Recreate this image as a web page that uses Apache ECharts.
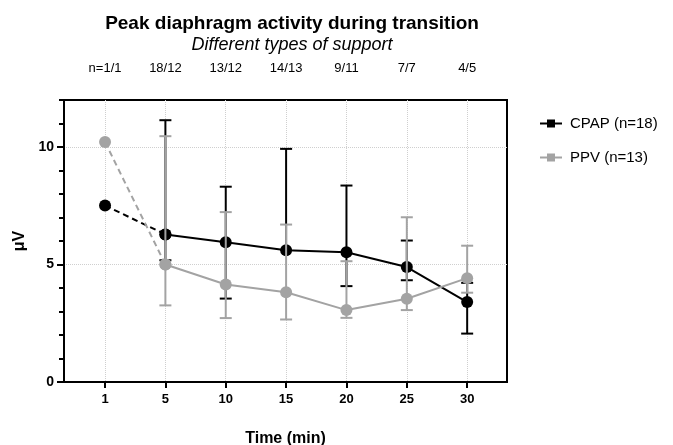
<!DOCTYPE html>
<html>
<head>
<meta charset="utf-8">
<script src="https://cdn.jsdelivr.net/npm/echarts@6/dist/echarts.min.js"></script>
<style>html,body{margin:0;padding:0;background:#fff}#c{width:673px;height:445px}</style>
</head>
<body>
<div id="c"></div>
<script>
const categories = ['1', '5', '10', '15', '20', '25', '30'];
const nLabels = ['n=1/1', '18/12', '13/12', '14/13', '9/11', '7/7', '4/5'];
const cpapMean = [7.51, 6.28, 5.95, 5.61, 5.52, 4.89, 3.40];
const cpapLow  = [null, 5.18, 3.55, null, 4.08, 4.33, 2.06];
const cpapHigh = [null, 11.14, 8.31, 9.92, 8.36, 6.02, 4.22];
const ppvMean = [10.21, 5.00, 4.15, 3.82, 3.06, 3.54, 4.42];
const ppvLow  = [null, 3.26, 2.72, 2.66, 2.73, 3.06, 3.80];
const ppvHigh = [null, 10.46, 7.23, 6.70, 5.14, 7.01, 5.80];
const yMajor = [0, 5, 10];
const yMinor = [1, 2, 3, 4, 6, 7, 8, 9, 11, 12];

const FONT = '"Liberation Sans", Arial, sans-serif';
const BLACK = '#000000';
const GRAY = '#a3a3a3';
const idx = categories.map((_, i) => i);

function errData(mean, lo, hi) {
  const out = [];
  mean.forEach((m, i) => {
    if (lo[i] == null && hi[i] == null) return;
    out.push([i, lo[i] == null ? m : lo[i], hi[i] == null ? m : hi[i], m]);
  });
  return out;
}
function errRender(color) {
  return function (params, api) {
    const x = api.value(0), lo = api.value(1), hi = api.value(2), m = api.value(3);
    const pm = api.coord([x, m]);
    const hw = 6;
    const st = { stroke: color, lineWidth: 2 };
    const ch = [];
    if (hi > m) {
      const ph = api.coord([x, hi]);
      ch.push({ type: 'line', shape: { x1: pm[0], y1: pm[1], x2: ph[0], y2: ph[1] }, style: st });
      ch.push({ type: 'line', shape: { x1: ph[0] - hw, y1: ph[1], x2: ph[0] + hw, y2: ph[1] }, style: st });
    }
    if (lo < m) {
      const pl = api.coord([x, lo]);
      ch.push({ type: 'line', shape: { x1: pm[0], y1: pm[1], x2: pl[0], y2: pl[1] }, style: st });
      ch.push({ type: 'line', shape: { x1: pl[0] - hw, y1: pl[1], x2: pl[0] + hw, y2: pl[1] }, style: st });
    }
    return { type: 'group', children: ch };
  };
}
function pts(arr, from, to) {
  const out = [];
  for (let i = from; i <= to; i++) out.push([i, arr[i]]);
  return out;
}

const chart = echarts.init(document.getElementById('c'), null, { renderer: 'canvas' });
const legendIcon = 'path://M0,3H7V0H15V3H22V5H15V8H7V5H0Z';
chart.setOption({
  animation: false,
  backgroundColor: '#fff',
  textStyle: { fontFamily: FONT },
  title: {
    text: 'Peak diaphragm activity during transition',
    subtext: 'Different types of support',
    left: 287, top: 9, textAlign: 'center', itemGap: 3,
    textStyle: { fontFamily: FONT, fontSize: 19, fontWeight: 'bold', color: '#000' },
    subtextStyle: { fontFamily: FONT, fontSize: 18, fontStyle: 'italic', color: '#000' }
  },
  legend: {
    orient: 'vertical', left: 535, top: 111, itemGap: 19,
    itemWidth: 22, itemHeight: 8,
    textStyle: { fontFamily: FONT, fontSize: 15, color: '#000', padding: [0, 0, 0, 3] },
    data: [{ name: 'CPAP (n=18)', icon: legendIcon }, { name: 'PPV (n=13)', icon: legendIcon }]
  },
  grid: { left: 64, right: 166, top: 100, bottom: 63, outerBoundsMode: 'none', containLabel: false,
    show: true, borderColor: '#000', borderWidth: 2, backgroundColor: 'transparent' },
  xAxis: [{
    type: 'value', min: -0.68, max: 6.66, position: 'bottom',
    name: 'Time (min)', nameLocation: 'middle', nameGap: 49,
    nameTextStyle: { fontFamily: FONT, fontSize: 16, fontWeight: 'bold', color: '#000' },
    axisLine: { show: true, onZero: false, lineStyle: { color: '#000', width: 2 } },
    axisTick: { show: true, customValues: idx, length: 6, lineStyle: { color: '#000', width: 2 } },
    axisLabel: { customValues: idx, formatter: v => categories[Math.round(v)], margin: 11,
      fontFamily: FONT, fontSize: 13, fontWeight: 'bold', color: '#000' },
    splitLine: { show: true, lineStyle: { color: '#cfcfcf', type: 'dotted', width: 1 } }
  }, {
    type: 'value', min: -0.68, max: 6.66, position: 'top',
    axisLine: { show: false, onZero: false }, axisTick: { show: false, customValues: idx },
    axisLabel: { customValues: idx, formatter: v => nLabels[Math.round(v)], margin: 25,
      fontFamily: '"Liberation Sans Narrow", "Liberation Sans", Arial, sans-serif', fontSize: 13, color: '#000' },
    splitLine: { show: false }
  }],
  yAxis: [{
    type: 'value', min: 0, max: 12, position: 'left',
    name: 'μV', nameLocation: 'middle', nameGap: 31, nameRotate: 90,
    nameTextStyle: { fontFamily: FONT, fontSize: 16, fontWeight: 'bold', color: '#000' },
    axisLine: { show: true, onZero: false, lineStyle: { color: '#000', width: 2 } },
    axisTick: { show: true, customValues: yMajor, length: 7, lineStyle: { color: '#000', width: 2 } },
    axisLabel: { customValues: yMajor, margin: 10, fontFamily: FONT, fontSize: 14, fontWeight: 'bold', color: '#000' },
    splitLine: { show: true, lineStyle: { color: '#cfcfcf', type: 'dotted', width: 1 } }
  }, {
    type: 'value', min: 0, max: 12, position: 'left',
    axisLine: { show: false, onZero: false },
    axisTick: { show: true, customValues: yMinor, length: 5, lineStyle: { color: '#000', width: 2 } },
    axisLabel: { show: false },
    splitLine: { show: false }
  }],
  series: [
    { name: 'cpapErr', type: 'custom', z: 2, renderItem: errRender(BLACK), data: errData(cpapMean, cpapLow, cpapHigh), silent: true },
    { name: 'cpapStart', type: 'line', z: 3, data: pts(cpapMean, 0, 1), symbol: 'circle', symbolSize: 12,
      itemStyle: { color: BLACK }, lineStyle: { color: BLACK, width: 2, type: [6, 4] } },
    { name: 'CPAP (n=18)', type: 'line', z: 3, data: pts(cpapMean, 1, 6), symbol: 'circle', symbolSize: 12,
      itemStyle: { color: BLACK }, lineStyle: { color: BLACK, width: 2 } },
    { name: 'ppvErr', type: 'custom', z: 4, renderItem: errRender(GRAY), data: errData(ppvMean, ppvLow, ppvHigh), silent: true },
    { name: 'ppvStart', type: 'line', z: 5, data: pts(ppvMean, 0, 1), symbol: 'circle', symbolSize: 12,
      itemStyle: { color: GRAY }, lineStyle: { color: GRAY, width: 2, type: [6, 4] } },
    { name: 'PPV (n=13)', type: 'line', z: 5, data: pts(ppvMean, 1, 6), symbol: 'circle', symbolSize: 12,
      itemStyle: { color: GRAY }, lineStyle: { color: GRAY, width: 2 } }
  ]
});
</script>
</body>
</html>
